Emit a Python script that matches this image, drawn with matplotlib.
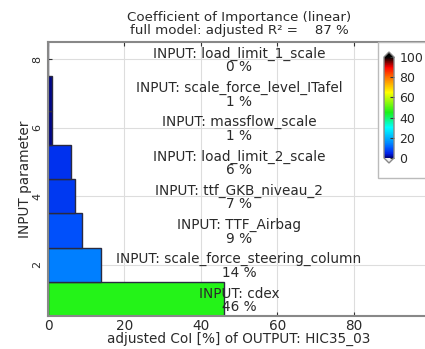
import matplotlib
matplotlib.use("Agg")
import matplotlib.pyplot as plt
import numpy as np
from matplotlib.colors import LinearSegmentedColormap, Normalize
from matplotlib.patches import Rectangle
import matplotlib.cm as cm

# Data
params = ["cdex", "scale_force_steering_column", "TTF_Airbag", "ttf_GKB_niveau_2",
          "load_limit_2_scale", "massflow_scale", "scale_force_level_ITafel",
          "load_limit_1_scale"]
coi = [46, 14, 9, 7, 6, 1, 1, 0]
r2_adj = 87
title_lines = ["Coefficient of Importance (linear)", "full model: adjusted R\u00b2 =    87 %"]
xlabel = "adjusted CoI [%] of OUTPUT: HIC35_03"
ylabel = "INPUT parameter"
xticks = [0, 20, 40, 60, 80]
yticks = [2, 4, 6, 8]
cbar_ticks = [0, 20, 40, 60, 80, 100]

W, H = 425, 349
fig = plt.figure(figsize=(W / 100, H / 100), dpi=100)
fig.patch.set_facecolor("white")

cmap = LinearSegmentedColormap.from_list("coi", [
    (0.00, (0.0, 0.0, 0.45)),
    (0.04, (0.0, 0.12, 0.90)),
    (0.10, (0.0, 0.35, 1.0)),
    (0.15, (0.0, 0.55, 1.0)),
    (0.30, (0.0, 1.0, 1.0)),
    (0.45, (0.1, 0.95, 0.1)),
    (0.65, (1.0, 1.0, 0.0)),
    (0.80, (1.0, 0.45, 0.0)),
    (0.90, (1.0, 0.0, 0.0)),
    (1.00, (0.0, 0.0, 0.0)),
])
cmap.set_over("black")
cmap.set_under("#f0f0f0")
norm = Normalize(0, 100)

FS = 9.8
TXT = "#2a2a2a"

ax = fig.add_axes([48 / W, 1 - 316 / H, 382 / W, (316 - 42) / H])
ypos = np.arange(1, len(params) + 1)
ax.barh(ypos, coi, height=1.0, color=[cmap(norm(v)) for v in coi],
        edgecolor="#2a2a40", linewidth=1.0, zorder=2)
ax.set_xlim(0, 100)
ax.set_ylim(0.5, 8.5)
ax.set_xticks(xticks)
ax.set_yticks(yticks)
ax.grid(True, color="#dddddd", linewidth=0.8, zorder=0)
ax.set_axisbelow(True)
ax.tick_params(direction="in", length=3, top=True, right=True, labelsize=FS,
               colors="#333333", labelcolor=TXT, pad=2)
for lab in ax.get_yticklabels():
    lab.set_rotation(90)
    lab.set_va("center")
ax.tick_params(axis="y", labelsize=8, pad=4)
for s in ax.spines.values():
    s.set_color("#888888")
    s.set_linewidth(1.5)

for y, name, v in zip(ypos, params, coi):
    ax.text(50, y - 0.04, f"INPUT: {name}\n{v} %", ha="center", va="center",
            fontsize=FS, color=TXT, linespacing=0.95, zorder=3)

ax.set_xlabel(xlabel, fontsize=FS, color=TXT, labelpad=-1)
ax.set_ylabel(ylabel, fontsize=FS, color=TXT, labelpad=0)
ax.set_title("\n".join(title_lines), fontsize=9.6, color=TXT, pad=6, linespacing=0.95)

# Colorbar box
box = Rectangle((378 / W, 1 - 178 / H), 60 / W, (178 - 42) / H, transform=fig.transFigure,
                facecolor="white", edgecolor="#bbbbbb", linewidth=1.0, zorder=5)
fig.patches.append(box)
cax = fig.add_axes([384 / W, 1 - 163 / H, 10 / W, (163 - 52) / H], zorder=6)
sm = cm.ScalarMappable(norm=norm, cmap=cmap)
cb = fig.colorbar(sm, cax=cax, ticks=cbar_ticks, extend="both", extendfrac=0.05)
cb.outline.set_edgecolor("#888888")
cb.outline.set_linewidth(1.0)
cax.tick_params(labelsize=9, direction="in", length=3, colors="#333333",
                labelcolor=TXT, pad=4)

fig.savefig("out.png", dpi=100)
